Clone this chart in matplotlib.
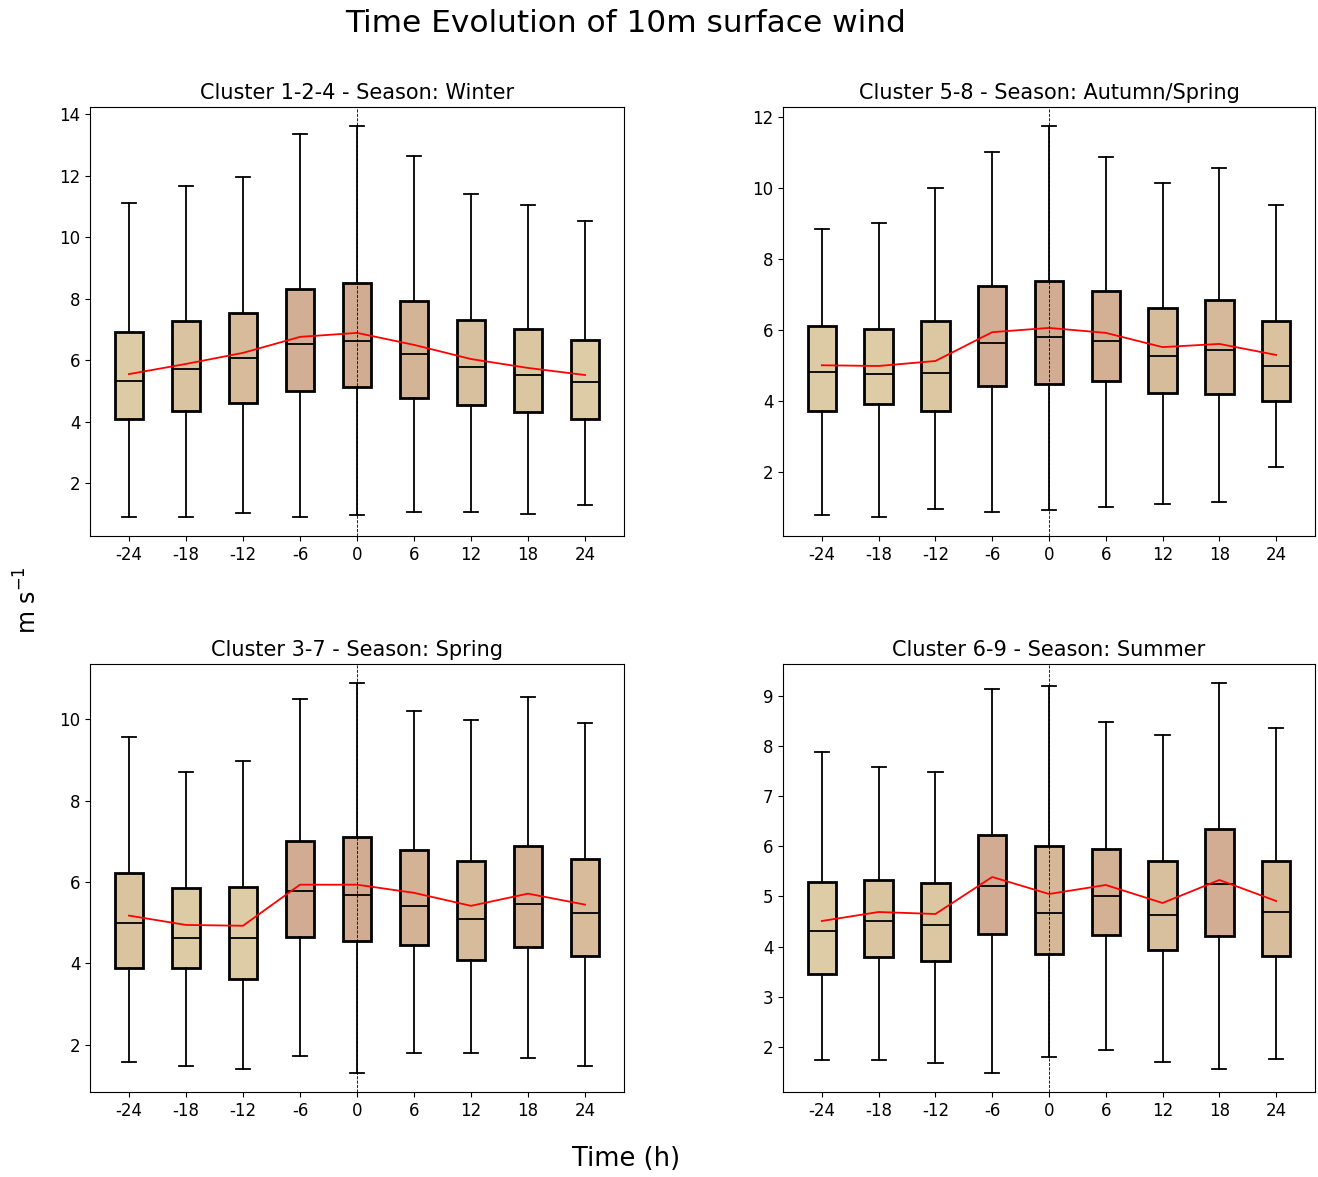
import matplotlib
matplotlib.use("Agg")
import matplotlib.pyplot as plt
import numpy as np
from matplotlib.colors import to_rgb

hours = [-24, -18, -12, -6, 0, 6, 12, 18, 24]

titles = ["Cluster 1-2-4 - Season: Winter",
          "Cluster 5-8 - Season: Autumn/Spring",
          "Cluster 3-7 - Season: Spring",
          "Cluster 6-9 - Season: Summer"]

# Panel 1: Cluster 1-2-4 Winter
p1_low = [0.92, 0.92, 1.05, 0.92, 0.96, 1.08, 1.08, 0.99, 1.28]
p1_q1 = [4.09, 4.35, 4.60, 5.00, 5.13, 4.77, 4.54, 4.31, 4.09]
p1_med = [5.33, 5.72, 6.08, 6.53, 6.63, 6.20, 5.78, 5.52, 5.29]
p1_q3 = [6.92, 7.28, 7.54, 8.33, 8.52, 7.93, 7.31, 7.02, 6.66]
p1_high = [11.10, 11.65, 11.95, 13.35, 13.60, 12.63, 11.42, 11.06, 10.54]
p1_mean = [5.55, 5.88, 6.24, 6.76, 6.89, 6.50, 6.04, 5.75, 5.52]

# Panel 2: Cluster 5-8 Autumn/Spring
p2_low = [0.79, 0.76, 0.96, 0.90, 0.93, 1.04, 1.10, 1.18, 2.14]
p2_q1 = [3.72, 3.92, 3.72, 4.42, 4.48, 4.56, 4.23, 4.20, 4.00]
p2_med = [4.82, 4.76, 4.79, 5.63, 5.80, 5.69, 5.27, 5.44, 4.99]
p2_q3 = [6.11, 6.03, 6.25, 7.24, 7.38, 7.10, 6.62, 6.85, 6.25]
p2_high = [8.85, 9.01, 10.00, 10.99, 11.72, 10.87, 10.14, 10.54, 9.52]
p2_mean = [5.01, 4.99, 5.13, 5.94, 6.06, 5.92, 5.52, 5.61, 5.30]

# Panel 3: Cluster 3-7 Spring
p3_low = [1.56, 1.48, 1.39, 1.71, 1.31, 1.80, 1.78, 1.68, 1.48]
p3_q1 = [3.87, 3.89, 3.62, 4.65, 4.55, 4.45, 4.09, 4.40, 4.18]
p3_med = [4.99, 4.63, 4.63, 5.78, 5.68, 5.41, 5.09, 5.46, 5.24]
p3_q3 = [6.22, 5.85, 5.88, 7.00, 7.10, 6.79, 6.52, 6.88, 6.56]
p3_high = [9.56, 8.70, 8.97, 10.49, 10.88, 10.20, 9.98, 10.54, 9.90]
p3_mean = [5.17, 4.94, 4.92, 5.93, 5.93, 5.73, 5.41, 5.71, 5.44]

# Panel 4: Cluster 6-9 Summer
p4_low = [1.74, 1.74, 1.68, 1.48, 1.80, 1.94, 1.70, 1.56, 1.76]
p4_q1 = [3.46, 3.80, 3.72, 4.25, 3.85, 4.23, 3.93, 4.21, 3.81]
p4_med = [4.31, 4.51, 4.43, 5.21, 4.67, 5.01, 4.63, 5.25, 4.69]
p4_q3 = [5.29, 5.33, 5.27, 6.23, 6.01, 5.95, 5.71, 6.35, 5.71]
p4_high = [7.88, 7.58, 7.48, 9.14, 9.20, 8.49, 8.22, 9.26, 8.36]
p4_mean = [4.51, 4.69, 4.65, 5.39, 5.05, 5.23, 4.87, 5.33, 4.91]

panels = [
    (p1_low, p1_q1, p1_med, p1_q3, p1_high, p1_mean),
    (p2_low, p2_q1, p2_med, p2_q3, p2_high, p2_mean),
    (p3_low, p3_q1, p3_med, p3_q3, p3_high, p3_mean),
    (p4_low, p4_q1, p4_med, p4_q3, p4_high, p4_mean),
]

light = np.array(to_rgb("#ddcca5"))
dark = np.array(to_rgb("#d1ab92"))

fig = plt.figure(figsize=(13.18, 11.77), dpi=100)
rects = [
    [0.0683, 0.5446, 0.4051, 0.3645],
    [0.5941, 0.5446, 0.4036, 0.3645],
    [0.0683, 0.0722, 0.4051, 0.3637],
    [0.5941, 0.0722, 0.4036, 0.3637],
]

for i, (rect, data, title) in enumerate(zip(rects, panels, titles)):
    ax = fig.add_axes(rect)
    low, q1, med, q3, high, mean = data
    stats = []
    for j in range(len(hours)):
        stats.append(dict(whislo=low[j], q1=q1[j], med=med[j], q3=q3[j],
                          whishi=high[j], fliers=[]))
    mn, mx = min(mean), max(mean)
    bp = ax.bxp(stats, positions=hours, widths=3, patch_artist=True,
                showfliers=False,
                boxprops=dict(linewidth=2.0, edgecolor="black"),
                whiskerprops=dict(linewidth=1.3, color="black"),
                capprops=dict(linewidth=1.3, color="black"),
                medianprops=dict(linewidth=1.3, color="black"),
                zorder=2)
    for j, patch in enumerate(bp["boxes"]):
        t = (mean[j] - mn) / (mx - mn) if mx > mn else 0
        patch.set_facecolor(tuple(light + (dark - light) * t))
    ax.plot(hours, mean, color="red", linewidth=1.3, zorder=3)
    ax.axvline(0, color="black", linestyle="--", linewidth=0.6, zorder=4)
    ax.set_xlim(-28.1, 28.1)
    ax.set_xticks(hours)
    ax.set_xticklabels([str(h) for h in hours])
    ax.tick_params(labelsize=12)
    ax.set_title(title, fontsize=15, pad=6)
    if i == 3:
        ax.set_yticks(range(2, 10))
    else:
        ax.yaxis.set_major_locator(matplotlib.ticker.MultipleLocator(2))

fig.text(0.475, 0.980, "Time Evolution of 10m surface wind", fontsize=22.5,
         ha="center", va="center")
fig.text(0.475, 0.015, "Time (h)", fontsize=18.5, ha="center", va="center")
fig.text(0.021, 0.49, "m s$^{-1}$", fontsize=17, ha="center", va="center",
         rotation=90)

fig.savefig("out.png", dpi=100)
